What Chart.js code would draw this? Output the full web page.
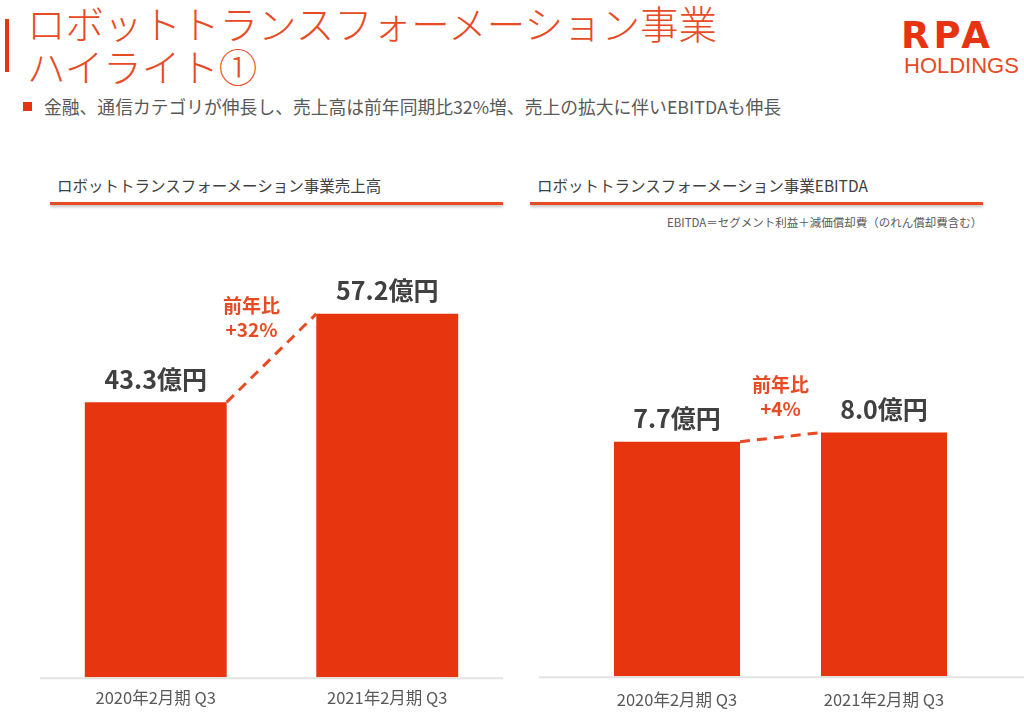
<!DOCTYPE html>
<html lang="ja">
<head>
<meta charset="utf-8">
<script src="https://cdn.jsdelivr.net/npm/chart.js@4.4.1/dist/chart.umd.min.js"></script>
<style>
  html, body { margin: 0; padding: 0; background: #ffffff; }
  body { width: 1024px; height: 717px; position: relative; overflow: hidden;
         font-family: "Noto Sans CJK JP", "Noto Sans", sans-serif; }
  .abs { position: absolute; white-space: nowrap; }
  .title { color: #E84A23; font-size: 38.5px; line-height: 38px; font-weight: 300; left: 27px; }
  .redbar { left: 5px; top: 19px; width: 4px; height: 53px; background: #E63312; }
  .sq { left: 23px; top: 102px; width: 9px; height: 9px; background: #E63312; }
  .sub { left: 44px; top: 95px; font-size: 17.8px; line-height: 22px; color: #595959; }
  .logo1 { left: 901px; top: 14px; font-family: "DejaVu Sans", sans-serif; font-weight: bold;
           font-size: 37px; line-height: 44px; color: #E63312; letter-spacing: 4px; }
  .logo2 { left: 904px; top: 55px; font-family: "Liberation Sans", sans-serif; font-size: 22px;
           line-height: 22px; color: #E84A23; }
  .hdr { font-size: 15.5px; line-height: 20px; color: #404040; top: 175px; }
  .uline { height: 3px; background: #E84A23; top: 202px; box-shadow: 0 2px 3px rgba(0,0,0,0.25); }
  .note { left: 667px; top: 214px; font-size: 11.5px; line-height: 16px; color: #595959; }
  canvas { position: absolute; }
</style>
</head>
<body>
<div class="abs redbar"></div>
<div class="abs title" style="top:3px;">ロボットトランスフォーメーション事業</div>
<div class="abs title" style="top:46px;">ハイライト①</div>
<div class="abs sq"></div>
<div class="abs sub">金融、通信カテゴリが伸長し、売上高は前年同期比32%増、売上の拡大に伴いEBITDAも伸長</div>
<div class="abs logo1">RPA</div>
<div class="abs logo2">HOLDINGS</div>

<div class="abs hdr" style="left:57px;">ロボットトランスフォーメーション事業売上高</div>
<div class="abs uline" style="left:50px; width:453px;"></div>
<div class="abs hdr" style="left:537px;">ロボットトランスフォーメーション事業EBITDA</div>
<div class="abs uline" style="left:530px; width:453px;"></div>
<div class="abs note">EBITDA＝セグメント利益＋減価償却費（のれん償却費含む）</div>

<canvas id="c1" width="520" height="509" style="left:0px; top:220px;"></canvas>
<canvas id="c2" width="504" height="513" style="left:520px; top:220px;"></canvas>

<script>
// ---- data ----
const categories = ['2020年2月期 Q3', '2021年2月期 Q3'];
const salesValues = [43.3, 57.2];
const ebitdaValues = [7.7, 8.0];
const unit = '億円';
const salesYoY = ['前年比', '+32%'];
const ebitdaYoY = ['前年比', '+4%'];

const BAR = '#E6350F';
const ACC = '#E84A23';
const FONT = '"Noto Sans CJK JP", "Noto Sans", sans-serif';

const baselinePlugin = {
  id: 'baseline',
  beforeDatasetsDraw(chart, args, opts) {
    const ctx = chart.ctx;
    const y = chart.scales.y.getPixelForValue(0);
    ctx.save();
    ctx.strokeStyle = '#e3e3e3';
    ctx.lineWidth = 2;
    ctx.beginPath();
    ctx.moveTo(opts.x0, y + 1);
    ctx.lineTo(opts.x1, y + 1);
    ctx.stroke();
    ctx.restore();
  }
};

const valueLabelPlugin = {
  id: 'valueLabels',
  afterDatasetsDraw(chart, args, opts) {
    const ctx = chart.ctx;
    const meta = chart.getDatasetMeta(0);
    const data = chart.data.datasets[0].data;
    ctx.save();
    ctx.fillStyle = '#404040';
    ctx.font = 'bold 25px ' + FONT;
    ctx.textAlign = 'center';
    ctx.textBaseline = 'middle';
    meta.data.forEach((el, i) => {
      ctx.fillText(data[i].toFixed(1) + unit, el.x, el.y - opts.offset);
    });
    ctx.restore();
  }
};

const yoyPlugin = {
  id: 'yoy',
  afterDatasetsDraw(chart, args, opts) {
    const ctx = chart.ctx;
    const meta = chart.getDatasetMeta(0);
    const a = meta.data[0], b = meta.data[1];
    const x0 = a.x + a.width / 2, y0 = a.y;
    const x1 = b.x - b.width / 2, y1 = b.y;
    ctx.save();
    ctx.strokeStyle = ACC;
    ctx.lineWidth = 3;
    ctx.setLineDash([10, 7]);
    ctx.beginPath();
    ctx.moveTo(x0, y0);
    ctx.lineTo(x1, y1);
    ctx.stroke();
    ctx.setLineDash([]);
    ctx.fillStyle = ACC;
    ctx.font = 'bold 19px ' + FONT;
    ctx.textAlign = 'center';
    ctx.textBaseline = 'middle';
    const cx = (x0 + x1) / 2 + opts.dx;
    const cy = (y0 + y1) / 2;
    ctx.fillText(opts.lines[0], cx, cy - 52);
    ctx.fillText(opts.lines[1], cx, cy - 28);
    ctx.restore();
  }
};

function makeChart(id, values, yMax, padding, barPct, yoyLines, dx, x0, x1, tickPad) {
  return new Chart(document.getElementById(id), {
    type: 'bar',
    data: {
      labels: categories,
      datasets: [{
        data: values,
        backgroundColor: BAR,
        borderWidth: 0,
        categoryPercentage: 1.0,
        barPercentage: barPct
      }]
    },
    options: {
      responsive: false,
      animation: false,
      devicePixelRatio: 1,
      layout: { padding: padding },
      plugins: {
        legend: { display: false },
        tooltip: { enabled: false },
        valueLabels: { offset: 23 },
        yoy: { lines: yoyLines, dx: dx },
        baseline: { x0: x0, x1: x1 }
      },
      scales: {
        x: {
          grid: { display: false, drawTicks: false },
          border: { display: false },
          ticks: { color: '#595959', font: { family: FONT, size: 16.5 }, padding: tickPad }
        },
        y: { display: false, min: 0, max: yMax }
      }
    },
    plugins: [baselinePlugin, valueLabelPlugin, yoyPlugin]
  });
}

makeChart('c1', salesValues, 70.4, { top: 10, left: 40, right: 17, bottom: 10 }, 0.613,
          salesYoY, -20, 40, 503, 11);
makeChart('c2', ebitdaValues, 14.65, { top: 10, left: 53.5, right: 36.5, bottom: 9 }, 0.609,
          ebitdaYoY, 0, 19, 504, 14);
</script>
</body>
</html>
